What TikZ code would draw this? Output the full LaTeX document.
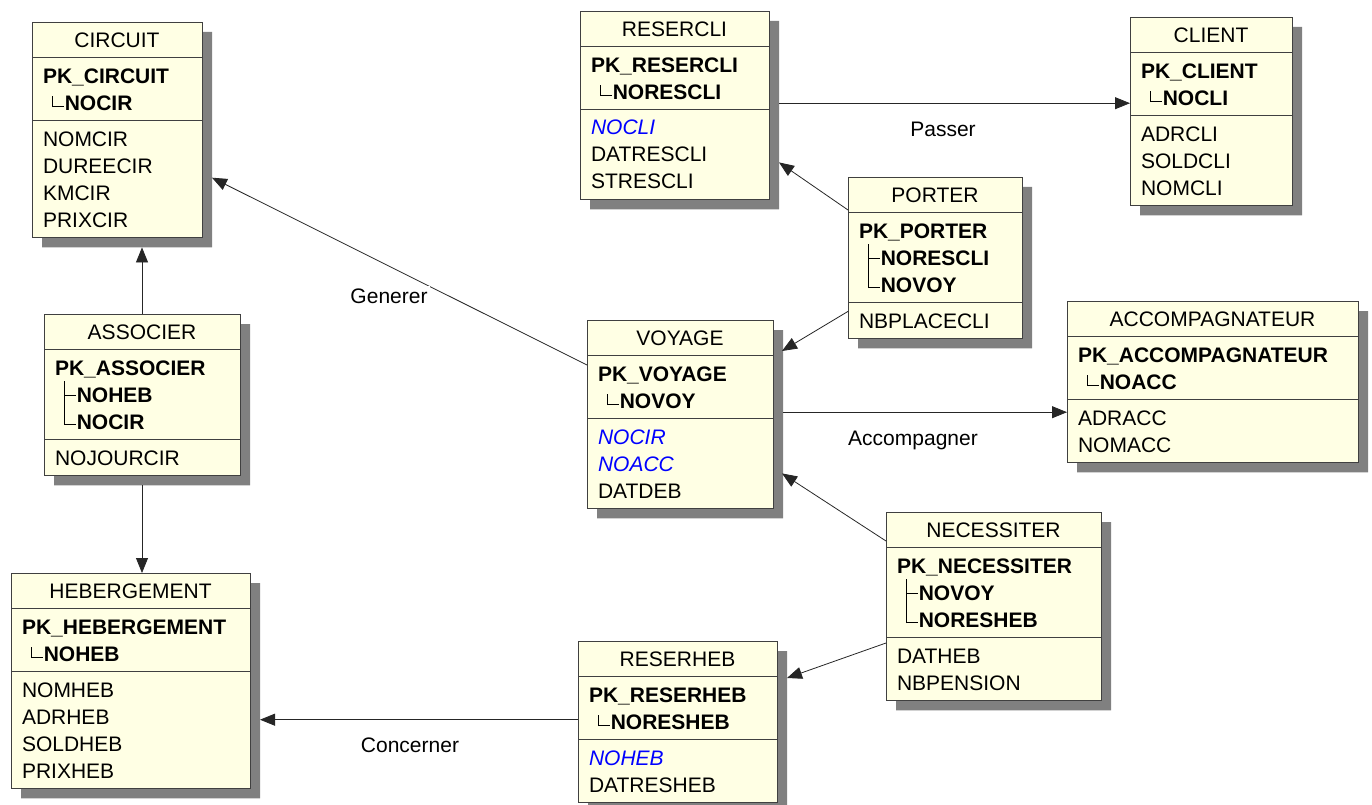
\documentclass[tikz,border=0pt]{standalone}
\usepackage{fontspec}
\setmainfont{Liberation Sans}
\usetikzlibrary{arrows.meta,shapes.multipart,shadows,calc}
\definecolor{tblfill}{RGB}{255,255,228}
\definecolor{tblshadow}{RGB}{128,128,128}
\definecolor{fkblue}{RGB}{0,0,255}

\newcommand\tabfont{\fontsize{21}{27}\selectfont}
\newcommand\rs{\rule[-6pt]{0pt}{27pt}}
% key tree marks in front of the primary key columns
\newcommand\pkone{\rs\hspace*{9pt}\rule[3pt]{0.8pt}{11pt}\rule[3pt]{11pt}{0.8pt}\hspace{1pt}}
\newcommand\pkmid{\rs\hspace*{9pt}\rule[-6pt]{0.8pt}{27pt}\rule[6pt]{11pt}{0.8pt}\hspace{1pt}}
\newcommand\pklast{\rs\hspace*{9pt}\rule[4pt]{0.8pt}{17pt}\rule[4pt]{11pt}{0.8pt}\hspace{1pt}}
\newcommand\fk[1]{\rs\textcolor{fkblue}{\itshape #1}}

\begin{document}
\begin{tikzpicture}[
  x=1pt,y=-1pt,
  tbl/.style={rectangle split,rectangle split parts=3,
    rectangle split part align={center,left,left},
    draw=black!75,line width=0.8pt,fill=tblfill,
    inner xsep=11pt,inner ysep=4pt,outer sep=0pt,
    align=left,anchor=north west,font=\tabfont,
    drop shadow={shadow xshift=10pt,shadow yshift=-10pt,fill=tblshadow,opacity=1}},
  rel/.style={-{Triangle[length=15pt,width=12pt]},line width=0.8pt,black!85},
  lbl/.style={font=\tabfont,fill=white,inner sep=2pt,anchor=base}
]
\useasboundingbox (0,0) rectangle (1372,805);

% tables
\node[tbl,minimum width=170pt] (circuit) at (32,22) {\rs CIRCUIT
  \nodepart{two}\rs\textbf{PK\_CIRCUIT}\\\pkone\textbf{NOCIR}
  \nodepart{three}\rs NOMCIR\\\rs DUREECIR\\\rs KMCIR\\\rs PRIXCIR};

\node[tbl,minimum width=196pt] (associer) at (44,314) {\rs ASSOCIER
  \nodepart{two}\rs\textbf{PK\_ASSOCIER}\\\pkmid\textbf{NOHEB}\\\pklast\textbf{NOCIR}
  \nodepart{three}\rs NOJOURCIR};

\node[tbl,minimum width=239pt] (hebergement) at (11,573) {\rs HEBERGEMENT
  \nodepart{two}\rs\textbf{PK\_HEBERGEMENT}\\\pkone\textbf{NOHEB}
  \nodepart{three}\rs NOMHEB\\\rs ADRHEB\\\rs SOLDHEB\\\rs PRIXHEB};

\node[tbl,minimum width=189pt] (resercli) at (580,11) {\rs RESERCLI
  \nodepart{two}\rs\textbf{PK\_RESERCLI}\\\pkone\textbf{NORESCLI}
  \nodepart{three}\fk{NOCLI}\\\rs DATRESCLI\\\rs STRESCLI};

\node[tbl,minimum width=162pt] (client) at (1130,17) {\rs CLIENT
  \nodepart{two}\rs\textbf{PK\_CLIENT}\\\pkone\textbf{NOCLI}
  \nodepart{three}\rs ADRCLI\\\rs SOLDCLI\\\rs NOMCLI};

\node[tbl,minimum width=174pt] (porter) at (848,177) {\rs PORTER
  \nodepart{two}\rs\textbf{PK\_PORTER}\\\pkmid\textbf{NORESCLI}\\\pklast\textbf{NOVOY}
  \nodepart{three}\rs NBPLACECLI};

\node[tbl,minimum width=186pt] (voyage) at (587,320) {\rs VOYAGE
  \nodepart{two}\rs\textbf{PK\_VOYAGE}\\\pkone\textbf{NOVOY}
  \nodepart{three}\fk{NOCIR}\\\fk{NOACC}\\\rs DATDEB};

\node[tbl,minimum width=291pt] (accomp) at (1067,301) {\rs ACCOMPAGNATEUR
  \nodepart{two}\rs\textbf{PK\_ACCOMPAGNATEUR}\\\pkone\textbf{NOACC}
  \nodepart{three}\rs ADRACC\\\rs NOMACC};

\node[tbl,minimum width=215pt] (necessiter) at (886,512) {\rs NECESSITER
  \nodepart{two}\rs\textbf{PK\_NECESSITER}\\\pkmid\textbf{NOVOY}\\\pklast\textbf{NORESHEB}
  \nodepart{three}\rs DATHEB\\\rs NBPENSION};

\node[tbl,minimum width=199pt] (reserheb) at (578,641) {\rs RESERHEB
  \nodepart{two}\rs\textbf{PK\_RESERHEB}\\\pkone\textbf{NORESHEB}
  \nodepart{three}\fk{NOHEB}\\\rs DATRESHEB};

% references
\draw[rel] (associer.north) -- ($(associer.north |- circuit.south)+(0,10)$);
\draw[rel] ($(associer.south)+(0,10)$) -- (associer.south |- hebergement.north);
\draw[rel] ($(voyage.north west)+(0,45)$) -- ($(circuit.east)+(10,48)$);
\node[lbl] (generer) at (389,303) {Generer};

\draw[rel] ($(resercli.east)+(10,-2)$) coordinate (p1) -- (p1 -| client.west);
\node[lbl] (passer) at (943,137) {Passer};

\draw[rel] ($(porter.north west)+(0,33)$) -- ($(resercli.south east)+(10,-37)$);
\draw[rel] ($(porter.south west)+(0,-27)$) -- ($(voyage.north east)+(9,31)$);

\draw[rel] ($(voyage.east)+(10,-2)$) coordinate (p2) -- (p2 -| accomp.west);
\node[lbl] (accompagner) at (913,445) {Accompagner};

\draw[rel] ($(necessiter.north west)+(0,29)$) -- ($(voyage.south east)+(9,-35)$);
\draw[rel] ($(necessiter.north west)+(0,131)$) -- ($(reserheb.north east)+(10,37)$);

\draw[rel] ($(reserheb.west)+(0,-2)$) coordinate (p3) -- ($(p3 -| hebergement.east)+(10,0)$);
\node[lbl] (concerner) at (410,752) {Concerner};
\end{tikzpicture}
\end{document}
